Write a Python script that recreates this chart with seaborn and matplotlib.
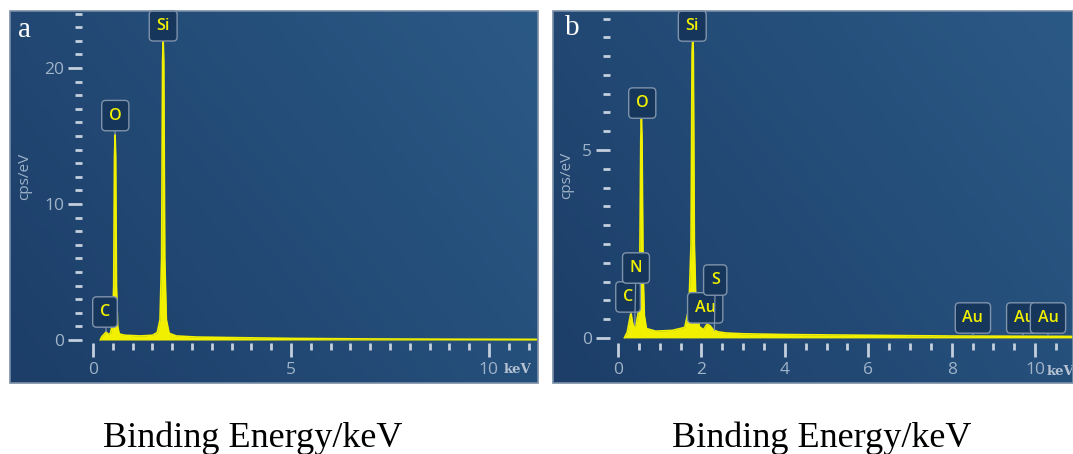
import numpy as np
import matplotlib
matplotlib.use("Agg")
import matplotlib.pyplot as plt
import seaborn as sns
from matplotlib.colors import LinearSegmentedColormap
from matplotlib.ticker import FixedLocator
from matplotlib.patches import Rectangle

# ---------------- data ----------------
energy_a = [0.18, 0.22, 0.27, 0.33, 0.38, 0.44, 0.49, 0.52, 0.54, 0.555, 0.57, 0.59, 0.62, 0.66,
            0.8, 1.2, 1.5, 1.62, 1.69, 1.73, 1.755, 1.77, 1.785, 1.81, 1.85, 1.92, 2.1, 2.6,
            3.5, 5.0, 7.0, 9.0, 11.2]
counts_a = [0.0, 0.25, 0.4, 0.6, 0.4, 0.5, 1.2, 4.0, 13.5, 15.1, 13.5, 4.0, 1.0, 0.45,
            0.35, 0.3, 0.35, 0.55, 1.5, 6.0, 20.5, 22.1, 20.5, 6.0, 1.5, 0.5, 0.3, 0.22,
            0.18, 0.12, 0.08, 0.06, 0.05]

energy_b = [0.15, 0.22, 0.27, 0.31, 0.34, 0.38, 0.43, 0.49, 0.52, 0.545, 0.56, 0.575, 0.60, 0.63,
            0.68, 0.9, 1.3, 1.6, 1.70, 1.75, 1.775, 1.79, 1.805, 1.83, 1.87, 1.95, 2.05,
            2.13, 2.2, 2.28, 2.4, 2.6, 3.0, 4.0, 6.0, 8.0, 10.9]
counts_b = [0.0, 0.15, 0.45, 0.68, 0.45, 0.25, 0.35, 0.7, 1.8, 5.3, 5.85, 5.3, 1.8, 0.6,
            0.25, 0.18, 0.2, 0.28, 0.8, 2.5, 7.6, 8.0, 7.6, 2.5, 0.8, 0.3, 0.22,
            0.36, 0.33, 0.22, 0.16, 0.13, 0.11, 0.09, 0.07, 0.05, 0.04]

labels_a = ["C", "O", "Si"]
label_x_a = [0.30, 0.56, 1.77]
label_y_a = [2.06, 16.5, 23.1]
tip_x_a = [0.33, 0.555, 1.77]
tip_y_a = [0.6, 15.1, 22.1]

labels_b = ["C", "N", "O", "Si", "Au", "S", "Au", "Au", "Au"]
label_x_b = [0.24, 0.43, 0.58, 1.78, 2.09, 2.33, 8.51, 9.74, 10.31]
label_y_b = [1.09, 1.86, 6.25, 8.3, 0.80, 1.54, 0.53, 0.53, 0.53]
tip_x_b = [0.31, 0.40, 0.56, 1.79, 2.13, 2.31, 8.51, 9.71, 10.31]
tip_y_b = [0.65, 0.35, 5.85, 8.0, 0.38, 0.2, 0.08, 0.07, 0.06]

xticks_a = [0, 5, 10]
yticks_a = [0, 10, 20]
xticks_b = [0, 2, 4, 6, 8, 10]
yticks_b = [0, 5]
xminor_a = np.arange(0, 11.01, 0.5)
yminor_a = np.arange(0, 24.01, 1.0)
xminor_b = np.arange(0, 10.51, 0.5)
yminor_b = np.arange(0, 8.51, 0.5)

panel_letters = ["a", "b"]
axis_unit = "keV"
y_title = "cps/eV"
x_title = "Binding Energy/keV"

# ---------------- style ----------------
sns.set_style("white")
plt.rcParams["font.family"] = ["Open Sans", "DejaVu Sans"]

YEL = "#f0f000"
TICK = "#c3cfdc"
LBL = "#9fb3c9"
BOXFC = "#16365b"
BOXEC = "#7f93ab"

bg_cmap = LinearSegmentedColormap.from_list("bg", ["#1c3e68", "#2b5986"])

fig = plt.figure(figsize=(10.73, 4.54), dpi=100)
fig.patch.set_facecolor("white")

ax_a = fig.add_axes([10 / 1073, 71 / 454, 528 / 1073, 372 / 454])
ax_b = fig.add_axes([553 / 1073, 71 / 454, 520 / 1073, 372 / 454])


def draw_panel(ax, energy, counts, xlim, ylim, yspine, xspine, xmaj, ymaj, xmin, ymin,
               labels, lx, ly, tx, ty, letter, keV_pos, ylab_pos, letter_pos):
    gx, gy = np.meshgrid(np.linspace(0, 1, 200), np.linspace(0, 1, 100))
    grad = 0.65 * gx + 0.35 * gy
    ax.imshow(grad, extent=[0, 1, 0, 1], transform=ax.transAxes, aspect="auto",
              cmap=bg_cmap, origin="lower", zorder=0)
    ax.fill_between(energy, 0, counts, color=YEL, lw=0, zorder=2)
    sns.lineplot(x=energy, y=counts, ax=ax, color=YEL, lw=1.2, estimator=None,
                 sort=False, zorder=3)
    ax.set_xlim(*xlim)
    ax.set_ylim(*ylim)

    for s in ["top", "right"]:
        ax.spines[s].set_visible(False)
    ax.spines["left"].set_position(("data", yspine))
    ax.spines["bottom"].set_position(("data", xspine))
    ax.spines["left"].set_color("none")
    ax.spines["bottom"].set_color("none")

    ax.xaxis.set_major_locator(FixedLocator(xmaj))
    ax.yaxis.set_major_locator(FixedLocator(ymaj))
    ax.xaxis.set_minor_locator(FixedLocator(xmin))
    ax.yaxis.set_minor_locator(FixedLocator(ymin))
    ax.set_xticklabels([str(v) for v in xmaj])
    ax.set_yticklabels([str(v) for v in ymaj])
    ax.tick_params(which="major", direction="out", length=10, width=2, color=TICK,
                   labelcolor=LBL, labelsize=12.5, pad=3)
    ax.tick_params(axis="x", which="major", pad=4)
    ax.tick_params(which="minor", direction="out", length=5, width=2, color=TICK)
    ax.tick_params(axis="x", which="both", bottom=True)
    ax.tick_params(axis="y", which="both", left=True)
    ax.set_xlabel("")
    ax.set_ylabel("")

    for t, x0, y0, x1, y1 in zip(labels, lx, ly, tx, ty):
        ax.annotate(t, xy=(x1, y1), xytext=(x0, y0), textcoords="data",
                    ha="center", va="center", color=YEL, fontsize=11.5,
                    fontweight="semibold",
                    bbox=dict(boxstyle="round,pad=0.45,rounding_size=0.25",
                              fc=BOXFC, ec=BOXEC, lw=1),
                    arrowprops=dict(arrowstyle="-", color=BOXEC, lw=0.9,
                                    shrinkA=0, shrinkB=0),
                    zorder=5)

    ax.text(*keV_pos, axis_unit, transform=ax.transAxes, color="#b4c2d2",
            fontsize=9.5, family="DejaVu Serif", fontweight="bold",
            ha="center", va="center")
    ax.text(*ylab_pos, y_title, transform=ax.transAxes, color=LBL, fontsize=11,
            rotation=90, ha="center", va="center")
    ax.text(*letter_pos, letter, transform=ax.transAxes, color="white",
            fontsize=21, family="Liberation Serif", ha="center", va="center")
    ax.add_patch(Rectangle((0, 0), 1, 1, transform=ax.transAxes, fill=False,
                           ec="#7a8ea6", lw=1.2, zorder=10, clip_on=False))


draw_panel(ax_a, energy_a, counts_a, (-2.10, 11.24), (-3.16, 24.19), -0.28, -0.22,
           xticks_a, yticks_a, xminor_a, yminor_a,
           labels_a, label_x_a, label_y_a, tip_x_a, tip_y_a,
           panel_letters[0], (0.962, 0.035), (0.028, 0.556), (0.028, 0.949))
draw_panel(ax_b, energy_b, counts_b, (-1.56, 10.91), (-1.20, 8.70), -0.19, -0.13,
           xticks_b, yticks_b, xminor_b, yminor_b,
           labels_b, label_x_b, label_y_b, tip_x_b, tip_y_b,
           panel_letters[1], (0.975, 0.03), (0.027, 0.559), (0.038, 0.954))

fig.text(252.5 / 1073, 7 / 454, x_title, family="Liberation Serif", fontsize=26,
         ha="center", va="baseline", color="black")
fig.text(822 / 1073, 7 / 454, x_title, family="Liberation Serif", fontsize=26,
         ha="center", va="baseline", color="black")

fig.savefig("out.png", dpi=100, facecolor="white")
